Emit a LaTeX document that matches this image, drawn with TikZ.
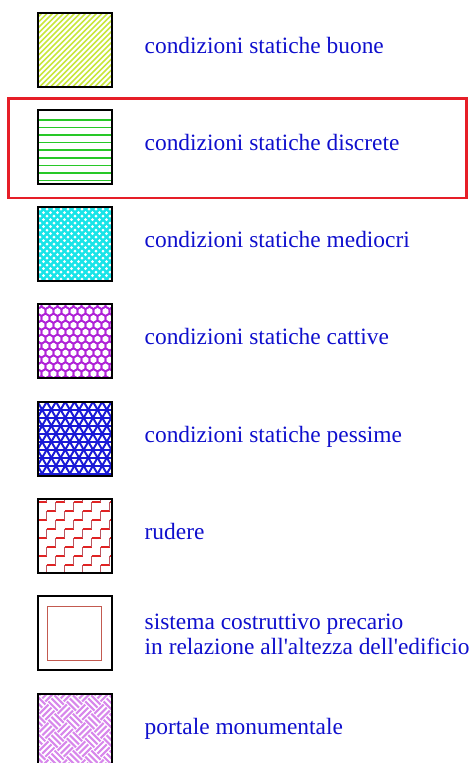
\documentclass[tikz,border=0pt]{standalone}
\usepackage{fontspec}
\setmainfont{Liberation Serif}[Ligatures=TeXOff]
\usetikzlibrary{positioning, backgrounds}
\definecolor{legendblue}{RGB}{15,15,205}
\definecolor{buone}{RGB}{200,230,60}
\definecolor{discrete}{RGB}{40,200,40}
\definecolor{mediocri}{RGB}{25,228,232}
\definecolor{cattive}{RGB}{175,35,215}
\definecolor{pessime}{RGB}{25,25,215}
\definecolor{rudere}{RGB}{225,35,35}
\definecolor{rudereriser}{RGB}{185,85,95}
\definecolor{precario}{RGB}{195,90,80}
\definecolor{portale}{RGB}{215,135,235}
\definecolor{highlight}{RGB}{230,30,40}

\begin{document}
\begin{tikzpicture}
    [x=1pt, y=-1pt, node distance=23.3pt,
      swatch/.style={draw, line width=2pt, minimum size=74pt, inner sep=0pt, outer sep=0pt},
      caption/.style={text=legendblue, font=\fontsize{23.4}{25}\selectfont, inner sep=0pt},
      oneline/.style={caption, text height=16pt, text depth=5pt, yshift=2pt}]

    \useasboundingbox (0,0) rectangle (473,763);

    % swatches
    \node[swatch] (s1) at (74.5,49.5) {};
    \node[swatch, below=of s1] (s2) {};
    \node[swatch, below=of s2] (s3) {};
    \node[swatch, below=of s3] (s4) {};
    \node[swatch, below=of s4] (s5) {};
    \node[swatch, below=of s5] (s6) {};
    \node[swatch, below=of s6] (s7) {};
    \node[swatch, below=of s7] (s8) {};

    % hatchings, behind the frames
    \begin{scope}[on background layer]
      \begin{scope}
        \clip (s1.north west) rectangle (s1.south east);
        \begin{scope}[shift={(s1.north west)}]
          \foreach \k in {-80,-74.5,...,80}
            \draw[buone, line width=1.6pt] (\k,74) -- ++(74,-74);
        \end{scope}
      \end{scope}
      \begin{scope}
        \clip (s2.north west) rectangle (s2.south east);
        \begin{scope}[shift={(s2.north west)}]
          \foreach \k in {1,...,9}
            \draw[discrete, line width=1.6pt] (0,2.4+7.6*\k) -- ++(74,0);
        \end{scope}
      \end{scope}
      \begin{scope}
        \clip (s3.north west) rectangle (s3.south east);
        \begin{scope}[shift={(s3.north west)}]
          \foreach \k in {-80,-73,...,80}
            \draw[mediocri, line width=2.4pt] (\k,74) -- ++(74,-74) (\k,0) -- ++(74,74);
        \end{scope}
      \end{scope}
      \begin{scope}
        \clip (s4.north west) rectangle (s4.south east);
        \begin{scope}[shift={(s4.north west)}]
          \foreach \j in {0,...,11} \foreach \i in {-1,...,9} {
            \pgfmathsetmacro\hx{\i*8+4*mod(\j,2)}
            \pgfmathsetmacro\hy{\j*6.93}
            \draw[cattive, line width=1.7pt] (\hx,\hy) ++(30:4.62) -- ++(150:4.62) -- ++(210:4.62)
              -- ++(270:4.62) -- ++(330:4.62) -- ++(30:4.62) -- cycle;}
        \end{scope}
      \end{scope}
      \begin{scope}
        \clip (s5.north west) rectangle (s5.south east);
        \begin{scope}[shift={(s5.north west)}]
          \foreach \k in {-6,...,14}
            \draw[pessime, line width=2pt] (\k*9.24,0) -- ++(60:100) (\k*9.24,0) -- ++(120:100);
          \foreach \r in {0,...,10}
            \draw[pessime, line width=2pt] (0,\r*8) -- (74,\r*8);
        \end{scope}
      \end{scope}
      \begin{scope}
        \clip (s6.north west) rectangle (s6.south east);
        \begin{scope}[shift={(s6.north west)}]
          \foreach \k in {-90,-72,...,80}
            \foreach \j in {0,...,9} {
              \draw[rudereriser, line width=1.2pt] (\k+\j*9,84-\j*9) -- ++(0,-9);
              \draw[rudere, line width=1.2pt] (\k+\j*9,75-\j*9) -- ++(9,0);}
        \end{scope}
      \end{scope}
      \begin{scope}[shift={(s7.north west)}]
        \draw[precario, line width=1.2pt] (10,10) rectangle (64,64);
      \end{scope}
      \begin{scope}
        \clip (s8.north west) rectangle (s8.south east);
        \begin{scope}[shift={(s8.center)}, rotate=45]
          \foreach \i in {-5,...,5} \foreach \j in {-5,...,5} {
            \pgfmathtruncatemacro\weave{mod(\i+\j+20,2)}
            \ifnum\weave=0
              \foreach \t in {2.2,6.5,10.8}
                \draw[portale, line width=2.1pt] (\i*13,\j*13+\t) -- ++(13,0);
            \else
              \foreach \t in {2.2,6.5,10.8}
                \draw[portale, line width=2.1pt] (\i*13+\t,\j*13) -- ++(0,13);
            \fi}
        \end{scope}
      \end{scope}
    \end{scope}

    % captions
    \node[oneline, right=33pt of s1] (t1) {condizioni statiche buone};
    \node[oneline, right=33pt of s2] (t2) {condizioni statiche discrete};
    \node[oneline, right=33pt of s3] (t3) {condizioni statiche mediocri};
    \node[oneline, right=33pt of s4] (t4) {condizioni statiche cattive};
    \node[oneline, right=33pt of s5] (t5) {condizioni statiche pessime};
    \node[oneline, right=33pt of s6] (t6) {rudere};
    \node[caption, align=left, right=33pt of s7, yshift=-1pt] (t7)
      {sistema costruttivo precario\\in relazione all'altezza dell'edificio};
    \node[oneline, right=33pt of s8] (t8) {portale monumentale};

    \draw[highlight, line width=2.6pt] (8.3,98.3) rectangle (466.5,198);
  \end{tikzpicture}
\end{document}
